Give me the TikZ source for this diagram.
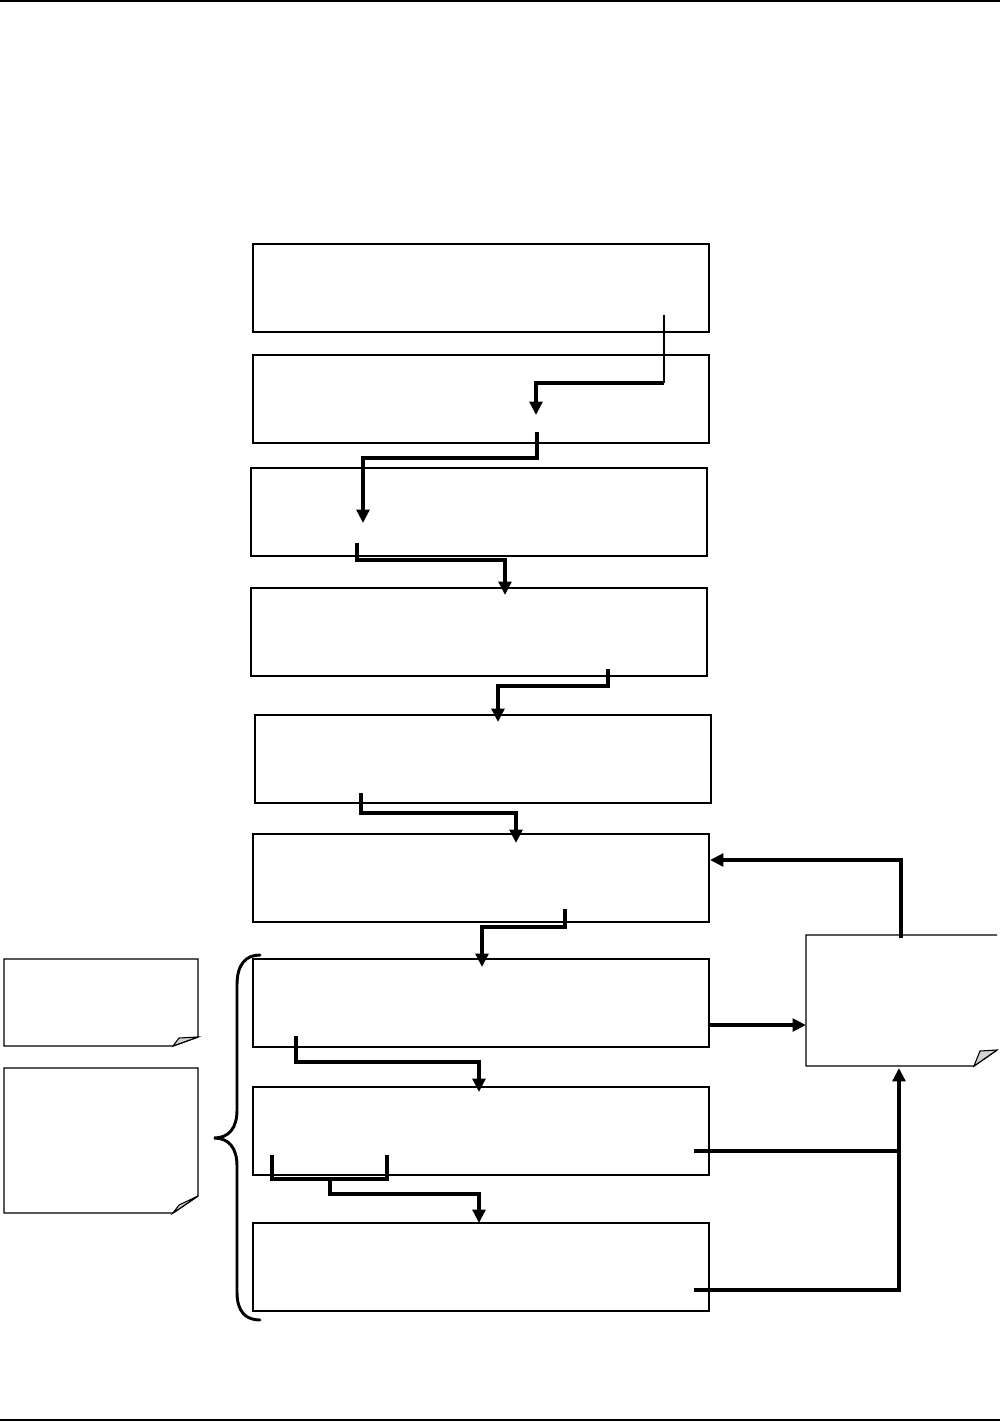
\documentclass[tikz,border=0pt]{standalone}
\usetikzlibrary{arrows.meta}
\begin{document}
\begin{tikzpicture}[x=0.75pt,y=-0.75pt,
  stepbox/.style={draw, line width=1.5pt, rectangle, inner sep=0pt, minimum width=342pt, minimum height=66pt},
  noteref/.style={rectangle, inner sep=0pt},
  noteline/.style={line width=1pt, line join=miter},
  foldfill/.style={line width=0.8pt, fill=gray!35},
  flow/.style={line width=2.5pt, -{Triangle[length=10pt,width=9.5pt]}},
  flowline/.style={line width=2.5pt},
  thinflow/.style={line width=1.3pt},
  pageline/.style={line width=1.5pt},
  brace/.style={line width=2.2pt, line cap=round}]
\useasboundingbox (0,0) rectangle (1005,1422);
% page rules
\coordinate (tl) at (0,1); \coordinate (tr) at (1000,1);
\coordinate (bl) at (0,1420); \coordinate (br) at (1000,1420);
\draw[pageline] (tl) -- (tr);
\draw[pageline] (bl) -- (br);
% boxes
\node[stepbox] (b1) at (481,287.5) {};
\node[stepbox] (b2) at (481,399) {};
\node[stepbox] (b3) at (479,511.5) {};
\node[stepbox] (b4) at (479,631.5) {};
\node[stepbox] (b5) at (482.5,758.5) {};
\node[stepbox] (b6) at (481,877.5) {};
\node[stepbox] (b7) at (481,1002.5) {};
\node[stepbox] (b8) at (481,1130.5) {};
\node[stepbox] (b9) at (481,1267) {};
% notes (reference nodes)
\node[noteref, minimum width=145.5pt, minimum height=65pt] (n1) at (101,1002.5) {};
\node[noteref, minimum width=145.5pt, minimum height=109pt] (n2) at (101,1140.5) {};
\node[noteref, minimum width=143pt, minimum height=98pt] (n3) at (901.5,1000.5) {};
% note 1
\draw[noteline] (173,1046) -- (4,1046) -- (4,959) -- (198,959) -- (198,1037) -- cycle;
\draw[foldfill] (173,1046) -- (179,1038) -- (198,1037) -- cycle;
% note 2
\draw[noteline] (173,1213) -- (4,1213) -- (4,1068) -- (198,1068) -- (198,1196) -- cycle;
\draw[foldfill] (173,1213) -- (179,1205) -- (198,1196) -- cycle;
% note 3 (right edge cut off)
\draw[noteline] (997,935) -- (806,935) -- (806,1066) -- (974,1066) -- (997,1050);
\draw[foldfill] (974,1066) -- (980,1051) -- (997,1050) -- cycle;
% brace
\draw[brace] (260,955) .. controls (246,955) and (237,964) .. (237,985) -- (237,1110)
  .. controls (237,1128) and (229,1138) .. (214,1138)
  .. controls (229,1138) and (237,1148) .. (237,1166) -- (237,1292)
  .. controls (237,1312) and (246,1320) .. (260,1320);
% connectors
\coordinate (c1s) at (664,315); \coordinate (c1m) at (664,383); \coordinate (c1e) at (536,415);
\draw[thinflow] (c1s) -- (c1m);
\draw[flow] (c1m) -| (c1e);
\coordinate (c2s) at (537,432); \coordinate (c2e) at (363,523);
\draw[flow] (c2s) -- ++(0,26) -| (c2e);
\coordinate (c3s) at (357,543); \coordinate (c3e) at (505,595);
\draw[flow] (c3s) -- ++(0,17) -| (c3e);
\coordinate (c4s) at (608,669); \coordinate (c4e) at (498,722);
\draw[flow] (c4s) -- ++(0,17) -| (c4e);
\coordinate (c5s) at (361,793); \coordinate (c5e) at (516,843);
\draw[flow] (c5s) -- ++(0,20) -| (c5e);
\coordinate (c6s) at (565,909); \coordinate (c6e) at (482,967);
\draw[flow] (c6s) -- ++(0,18) -| (c6e);
\coordinate (c7s) at (296,1036); \coordinate (c7e) at (479,1092);
\draw[flow] (c7s) -- ++(0,26) -| (c7e);
\coordinate (c8a) at (272,1155); \coordinate (c8b) at (387,1155); \coordinate (c8m) at (330,1179);
\coordinate (c8e) at (479,1223);
\draw[flowline] (c8a) |- (c8b |- c8m) -- (c8b);
\draw[flow] (c8m) -- ++(0,15) -| (c8e);
% right side
\coordinate (c9s) at (b7.east |- 0,1025); \coordinate (c9e) at (n3.west |- 0,1025);
\draw[flow] (c9s) -- (c9e);
\coordinate (c10s) at (901,938); \coordinate (c10e) at (710,860);
\draw[flow] (c10s) |- (c10e);
\coordinate (c11a) at (694,1151); \coordinate (c11j) at (899,1151);
\coordinate (c11b) at (694,1290); \coordinate (c11e) at (899,1068);
\draw[flowline] (c11a) -- (c11j);
\draw[flow] (c11b) -| (c11e);
\end{tikzpicture}
\end{document}
